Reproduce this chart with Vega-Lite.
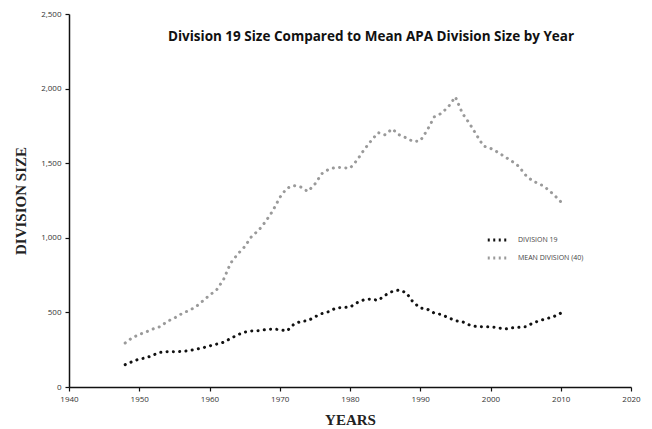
{
  "$schema": "https://vega.github.io/schema/vega-lite/v6.json",
  "autosize": {"type": "none"},
  "padding": {"left": 69, "top": 14, "right": 21, "bottom": 42},
  "width": 562,
  "height": 373,
  "background": "white",
  "title": {"text": "Division 19 Size Compared to Mean APA Division Size by Year", "anchor": "middle", "dx": 21, "dy": 37, "font": "Open Sans", "fontSize": 13.5, "fontWeight": "bold", "color": "#111"},
  "config": {"view": {"stroke": null}, "axis": {"grid": false}},
  "data": {"values": [
    {"year":1948,"d19":150,"mean":295},{"year":1949,"d19":170,"mean":330},{"year":1950,"d19":188,"mean":352},
    {"year":1951,"d19":195,"mean":370},{"year":1952,"d19":215,"mean":390},{"year":1953,"d19":232,"mean":405},
    {"year":1954,"d19":237,"mean":440},{"year":1955,"d19":236,"mean":462},{"year":1956,"d19":238,"mean":490},
    {"year":1957,"d19":243,"mean":512},{"year":1958,"d19":252,"mean":535},{"year":1959,"d19":262,"mean":575},
    {"year":1960,"d19":275,"mean":615},{"year":1961,"d19":287,"mean":650},{"year":1962,"d19":300,"mean":720},
    {"year":1963,"d19":325,"mean":830},{"year":1964,"d19":350,"mean":890},{"year":1965,"d19":368,"mean":940},
    {"year":1966,"d19":376,"mean":1010},{"year":1967,"d19":378,"mean":1050},{"year":1968,"d19":385,"mean":1110},
    {"year":1969,"d19":388,"mean":1180},{"year":1970,"d19":385,"mean":1270},{"year":1971,"d19":375,"mean":1332},
    {"year":1972,"d19":420,"mean":1350},{"year":1973,"d19":440,"mean":1340},{"year":1974,"d19":444,"mean":1310},
    {"year":1975,"d19":470,"mean":1360},{"year":1976,"d19":492,"mean":1430},{"year":1977,"d19":505,"mean":1460},
    {"year":1978,"d19":530,"mean":1472},{"year":1979,"d19":533,"mean":1470},{"year":1980,"d19":535,"mean":1466},
    {"year":1981,"d19":565,"mean":1520},{"year":1982,"d19":585,"mean":1590},{"year":1983,"d19":590,"mean":1650},
    {"year":1984,"d19":580,"mean":1705},{"year":1985,"d19":615,"mean":1690},{"year":1986,"d19":640,"mean":1730},
    {"year":1987,"d19":650,"mean":1690},{"year":1988,"d19":632,"mean":1670},{"year":1989,"d19":568,"mean":1645},
    {"year":1990,"d19":530,"mean":1650},{"year":1991,"d19":522,"mean":1722},{"year":1992,"d19":495,"mean":1811},
    {"year":1993,"d19":486,"mean":1834},{"year":1994,"d19":465,"mean":1878},{"year":1995,"d19":445,"mean":1945},
    {"year":1996,"d19":437,"mean":1834},{"year":1997,"d19":416,"mean":1767},{"year":1998,"d19":405,"mean":1690},
    {"year":1999,"d19":404,"mean":1615},{"year":2000,"d19":404,"mean":1600},{"year":2001,"d19":398,"mean":1575},
    {"year":2002,"d19":388,"mean":1544},{"year":2003,"d19":396,"mean":1515},{"year":2004,"d19":400,"mean":1480},
    {"year":2005,"d19":404,"mean":1420},{"year":2006,"d19":428,"mean":1380},{"year":2007,"d19":445,"mean":1362},
    {"year":2008,"d19":458,"mean":1330},{"year":2009,"d19":472,"mean":1290},{"year":2010,"d19":495,"mean":1242}
  ]},
  "transform": [
    {"fold": ["d19", "mean"], "as": ["key", "value"]},
    {"calculate": "datum.key === 'd19' ? 'DIVISION 19' : 'MEAN DIVISION (40)'", "as": "series"}
  ],
  "mark": {"type": "line", "strokeDash": [0.1, 6.2], "strokeCap": "round", "strokeWidth": 3},
  "encoding": {
    "x": {"field": "year", "type": "quantitative", "scale": {"domain": [1940, 2020], "nice": false, "zero": false},
      "axis": {"values": [1940,1950,1960,1970,1980,1990,2000,2010,2020], "format": "d", "title": "YEARS",
        "titleFont": "Liberation Serif", "titleFontSize": 15, "titleFontWeight": "bold", "titleColor": "#222", "titlePadding": 9,
        "labelFont": "Open Sans", "labelFontSize": 8, "labelColor": "#333", "labelPadding": 4,
        "domainColor": "#111", "domainWidth": 1.5, "tickColor": "#111", "tickSize": 4, "tickWidth": 1.2, "labelFlush": false}},
    "y": {"field": "value", "type": "quantitative", "scale": {"domain": [0, 2500], "nice": false},
      "axis": {"values": [0,500,1000,1500,2000,2500], "format": ",.0f", "title": "DIVISION SIZE",
        "titleFont": "Liberation Serif", "titleFontSize": 15, "titleFontWeight": "bold", "titleColor": "#222", "titlePadding": 12,
        "labelFont": "Open Sans", "labelFontSize": 8, "labelColor": "#333", "labelPadding": 4,
        "domainColor": "#111", "domainWidth": 1.5, "tickColor": "#111", "tickSize": 4, "tickWidth": 1.2}},
    "color": {"field": "series", "type": "nominal",
      "scale": {"domain": ["DIVISION 19", "MEAN DIVISION (40)"], "range": ["#111111", "#9a9a9a"]},
      "legend": {"orient": "none", "legendX": 417, "legendY": 214, "title": null, "symbolType": "stroke",
        "symbolDash": [2, 3.5], "symbolStrokeWidth": 3, "symbolSize": 420, "rowPadding": 0, "labelOffset": 8,
        "labelFont": "Open Sans", "labelFontSize": 7, "labelColor": "#444"}}
  }
}
